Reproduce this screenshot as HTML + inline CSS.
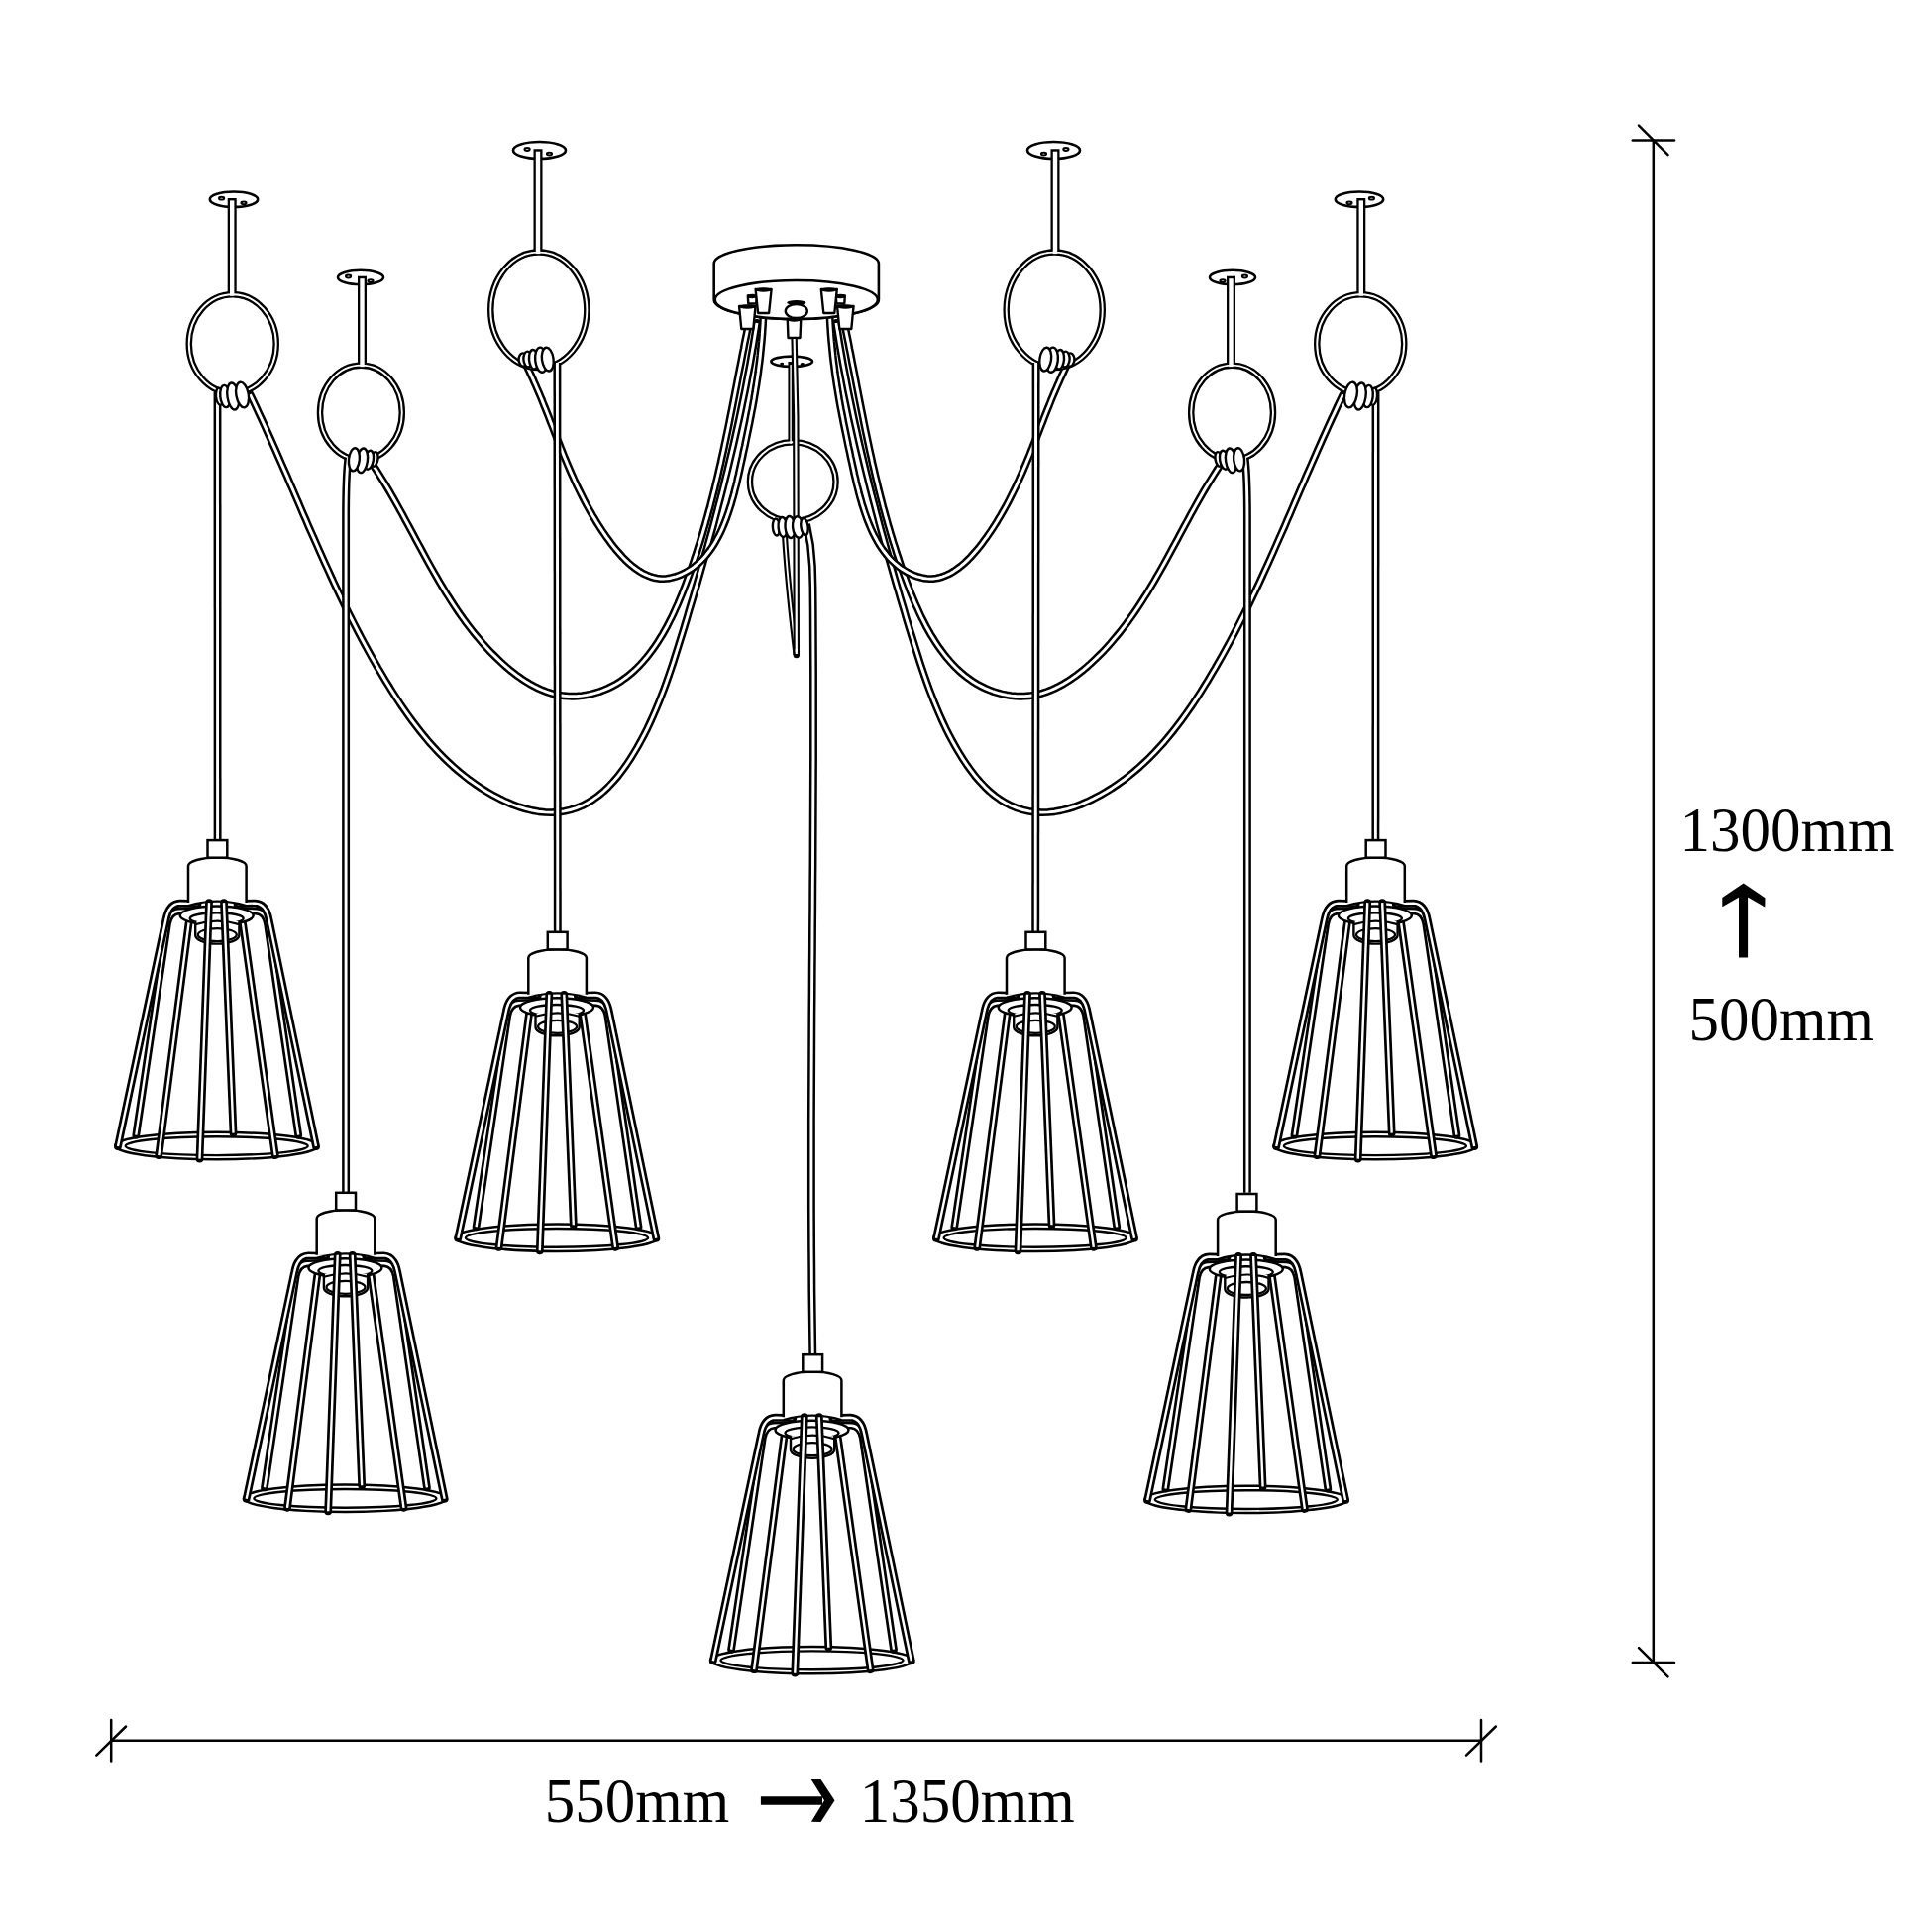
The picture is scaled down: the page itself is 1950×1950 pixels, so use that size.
<!DOCTYPE html><html><head><meta charset="utf-8"><style>html,body{margin:0;padding:0;background:#fff;}svg{display:block;}</style></head><body><svg width="1950" height="1950" viewBox="0 0 1950 1950"><defs><g id="lamp"><ellipse cx="-0.8" cy="308.4" rx="102.5" ry="13.7" fill="none" stroke="#000" stroke-width="2.5"/><ellipse cx="-0.8" cy="308.6" rx="92" ry="9.4" fill="none" stroke="#000" stroke-width="2.4"/><path d="M-24,71 L-39,71.5 Q-48,72 -50.5,84 L-82.2,297.5" fill="none" stroke="#000" stroke-width="7.8" stroke-linecap="round" stroke-linejoin="round"/><path d="M-24,71 L-39,71.5 Q-48,72 -50.5,84 L-82.2,297.5" fill="none" stroke="#fff" stroke-width="2.4" stroke-linecap="butt" stroke-linejoin="round"/><path d="M24,71 L39,71.5 Q48,72 50.5,84 L81.7,297.5" fill="none" stroke="#000" stroke-width="7.8" stroke-linecap="round" stroke-linejoin="round"/><path d="M24,71 L39,71.5 Q48,72 50.5,84 L81.7,297.5" fill="none" stroke="#fff" stroke-width="2.4" stroke-linecap="butt" stroke-linejoin="round"/><path d="M-20,64 L-38,63.5 Q-49,64 -52,80 L-100.5,309" fill="none" stroke="#000" stroke-width="7.8" stroke-linecap="round" stroke-linejoin="round"/><path d="M-20,64 L-38,63.5 Q-49,64 -52,80 L-100.5,309" fill="none" stroke="#fff" stroke-width="2.4" stroke-linecap="butt" stroke-linejoin="round"/><path d="M20,64 L38,63.5 Q49,64 52,80 L99.5,309" fill="none" stroke="#000" stroke-width="7.8" stroke-linecap="round" stroke-linejoin="round"/><path d="M20,64 L38,63.5 Q49,64 52,80 L99.5,309" fill="none" stroke="#fff" stroke-width="2.4" stroke-linecap="butt" stroke-linejoin="round"/><path d="M-29.5,63 L-29.5,26 A29.3,8.6 0 0 1 29.1,26 L29.1,63" fill="#fff" stroke="#000" stroke-width="2.5"/><rect x="-10" y="0" width="19.8" height="17.6" fill="#fff" stroke="#000" stroke-width="2.5"/><path d="M-27,76 L-29,84 L-59.2,318" fill="none" stroke="#000" stroke-width="7.8" stroke-linecap="round" stroke-linejoin="round"/><path d="M-27,76 L-29,84 L-59.2,318" fill="none" stroke="#fff" stroke-width="2.4" stroke-linecap="butt" stroke-linejoin="round"/><path d="M23.5,76 L25.5,84 L58.3,318" fill="none" stroke="#000" stroke-width="7.8" stroke-linecap="round" stroke-linejoin="round"/><path d="M23.5,76 L25.5,84 L58.3,318" fill="none" stroke="#fff" stroke-width="2.4" stroke-linecap="butt" stroke-linejoin="round"/><ellipse cx="-0.8" cy="76" rx="37" ry="9.5" fill="#fff" stroke="#000" stroke-width="2.5"/><path d="M-29.5,66 Q0,57 29.1,66" fill="none" stroke="#000" stroke-width="2.3"/><ellipse cx="-0.8" cy="79" rx="27" ry="5.8" fill="#fff" stroke="#000" stroke-width="2.4"/><path d="M-22.3,82 L-22.3,96 A22.1,8.5 0 0 0 21.9,96 L21.9,82" fill="#fff" stroke="#000" stroke-width="2.4"/><ellipse cx="-0.2" cy="95.5" rx="19.5" ry="6.5" fill="#fff" stroke="#000" stroke-width="2.3"/><path d="M-22.3,85 Q0,78 21.9,85" fill="none" stroke="#000" stroke-width="2.2"/><path d="M6.5,63 L16,295.5" fill="none" stroke="#000" stroke-width="7.8" stroke-linecap="round" stroke-linejoin="round"/><path d="M6.5,63 L16,295.5" fill="none" stroke="#fff" stroke-width="2.4" stroke-linecap="butt" stroke-linejoin="round"/><path d="M-8.5,63 L-18,321.5" fill="none" stroke="#000" stroke-width="7.8" stroke-linecap="round" stroke-linejoin="round"/><path d="M-8.5,63 L-18,321.5" fill="none" stroke="#fff" stroke-width="2.4" stroke-linecap="butt" stroke-linejoin="round"/></g></defs><rect width="1950" height="1950" fill="#fff"/><path d="M252.4,398.1 L255.4,404.4 258.4,410.8 261.3,417.1 264.3,423.5 267.2,429.8 270.0,436.2 272.9,442.5 275.7,448.9 278.5,455.2 281.3,461.6 284.1,468.0 286.9,474.3 289.7,480.7 292.4,487.1 295.2,493.4 297.9,499.8 300.7,506.2 303.4,512.5 306.1,518.9 308.9,525.2 311.6,531.6 314.4,537.9 317.2,544.2 320.0,550.5 322.8,556.8 325.6,563.1 328.4,569.4 331.3,575.7 334.2,582.0 337.1,588.3 340.0,594.5 343.0,600.7 346.0,607.0 349.0,613.2 352.1,619.4 355.2,625.5 358.3,631.7 361.5,637.8 364.7,644.0 368.0,650.1 371.3,656.2 374.6,662.2 378.1,668.3 381.5,674.3 385.1,680.3 388.6,686.3 392.3,692.2 396.0,698.2 399.8,704.1 403.6,709.9 407.6,715.7 411.6,721.4 415.7,727.1 419.9,732.7 424.2,738.2 428.6,743.6 433.1,749.0 437.8,754.2 442.5,759.3 447.4,764.3 452.5,769.2 457.6,773.9 462.9,778.5 468.4,783.0 473.9,787.3 479.7,791.4 485.6,795.4 491.7,799.2 497.9,802.8 504.3,806.1 510.7,809.2 517.2,812.0 523.8,814.4 530.4,816.4 537.0,818.0 543.6,819.2 550.1,819.9 556.6,820.1 563.0,819.8 569.3,818.9 575.5,817.5 581.6,815.6 587.5,813.2 593.2,810.3 598.7,806.9 604.0,803.1 609.2,798.8 614.1,794.1 618.8,789.1 623.4,783.8 627.7,778.2 631.9,772.4 635.9,766.4 639.7,760.2 643.4,754.0 646.9,747.7 650.3,741.3 653.5,734.9 656.5,728.5 659.4,722.0 662.2,715.5 664.9,709.0 667.5,702.4 670.0,695.9 672.4,689.3 674.7,682.7 677.0,676.0 679.2,669.4 681.3,662.8 683.4,656.1 685.5,649.4 687.5,642.8 689.6,636.1 691.6,629.5 693.6,622.8 695.5,616.1 697.5,609.5 699.5,602.8 701.4,596.2 703.4,589.5 705.3,582.8 707.2,576.2 709.1,569.5 711.0,562.8 712.9,556.2 714.7,549.5 716.5,542.8 718.4,536.2 720.2,529.5 721.9,522.8 723.7,516.1 725.4,509.4 727.2,502.7 728.9,496.0 730.6,489.3 732.2,482.6 733.9,475.9 735.5,469.2 737.1,462.4 738.7,455.7 740.3,448.9 741.8,442.2 743.3,435.4 744.8,428.7 746.3,421.9 747.7,415.1 749.1,408.3 750.5,401.5 751.9,394.7 753.2,387.9 754.5,381.1 755.8,374.2 757.1,367.4 758.3,360.5 759.5,353.6 760.7,346.7 761.8,339.8 762.9,332.9 764.0,326.0" fill="none" stroke="#000" stroke-width="7.9" stroke-linecap="round" stroke-linejoin="round"/><path d="M252.4,398.1 L255.4,404.4 258.4,410.8 261.3,417.1 264.3,423.5 267.2,429.8 270.0,436.2 272.9,442.5 275.7,448.9 278.5,455.2 281.3,461.6 284.1,468.0 286.9,474.3 289.7,480.7 292.4,487.1 295.2,493.4 297.9,499.8 300.7,506.2 303.4,512.5 306.1,518.9 308.9,525.2 311.6,531.6 314.4,537.9 317.2,544.2 320.0,550.5 322.8,556.8 325.6,563.1 328.4,569.4 331.3,575.7 334.2,582.0 337.1,588.3 340.0,594.5 343.0,600.7 346.0,607.0 349.0,613.2 352.1,619.4 355.2,625.5 358.3,631.7 361.5,637.8 364.7,644.0 368.0,650.1 371.3,656.2 374.6,662.2 378.1,668.3 381.5,674.3 385.1,680.3 388.6,686.3 392.3,692.2 396.0,698.2 399.8,704.1 403.6,709.9 407.6,715.7 411.6,721.4 415.7,727.1 419.9,732.7 424.2,738.2 428.6,743.6 433.1,749.0 437.8,754.2 442.5,759.3 447.4,764.3 452.5,769.2 457.6,773.9 462.9,778.5 468.4,783.0 473.9,787.3 479.7,791.4 485.6,795.4 491.7,799.2 497.9,802.8 504.3,806.1 510.7,809.2 517.2,812.0 523.8,814.4 530.4,816.4 537.0,818.0 543.6,819.2 550.1,819.9 556.6,820.1 563.0,819.8 569.3,818.9 575.5,817.5 581.6,815.6 587.5,813.2 593.2,810.3 598.7,806.9 604.0,803.1 609.2,798.8 614.1,794.1 618.8,789.1 623.4,783.8 627.7,778.2 631.9,772.4 635.9,766.4 639.7,760.2 643.4,754.0 646.9,747.7 650.3,741.3 653.5,734.9 656.5,728.5 659.4,722.0 662.2,715.5 664.9,709.0 667.5,702.4 670.0,695.9 672.4,689.3 674.7,682.7 677.0,676.0 679.2,669.4 681.3,662.8 683.4,656.1 685.5,649.4 687.5,642.8 689.6,636.1 691.6,629.5 693.6,622.8 695.5,616.1 697.5,609.5 699.5,602.8 701.4,596.2 703.4,589.5 705.3,582.8 707.2,576.2 709.1,569.5 711.0,562.8 712.9,556.2 714.7,549.5 716.5,542.8 718.4,536.2 720.2,529.5 721.9,522.8 723.7,516.1 725.4,509.4 727.2,502.7 728.9,496.0 730.6,489.3 732.2,482.6 733.9,475.9 735.5,469.2 737.1,462.4 738.7,455.7 740.3,448.9 741.8,442.2 743.3,435.4 744.8,428.7 746.3,421.9 747.7,415.1 749.1,408.3 750.5,401.5 751.9,394.7 753.2,387.9 754.5,381.1 755.8,374.2 757.1,367.4 758.3,360.5 759.5,353.6 760.7,346.7 761.8,339.8 762.9,332.9 764.0,326.0" fill="none" stroke="#fff" stroke-width="2.9" stroke-linecap="butt" stroke-linejoin="round"/><path d="M377.3,470.6 L379.9,474.5 382.4,478.5 384.9,482.5 387.4,486.5 389.9,490.6 392.3,494.6 394.7,498.7 397.0,502.8 399.4,507.0 401.7,511.1 404.0,515.3 406.3,519.4 408.5,523.6 410.8,527.8 413.1,532.0 415.3,536.2 417.6,540.4 419.8,544.6 422.1,548.8 424.4,553.0 426.6,557.2 428.9,561.4 431.2,565.6 433.5,569.8 435.8,573.9 438.2,578.1 440.6,582.3 443.0,586.4 445.4,590.5 447.8,594.6 450.3,598.7 452.9,602.7 455.4,606.7 458.0,610.7 460.7,614.7 463.4,618.7 466.1,622.6 468.9,626.5 471.8,630.3 474.7,634.1 477.6,637.9 480.7,641.6 483.8,645.3 486.9,649.0 490.1,652.6 493.4,656.2 496.8,659.7 500.3,663.1 503.8,666.5 507.4,669.9 511.1,673.2 514.8,676.3 518.7,679.4 522.5,682.3 526.5,685.1 530.5,687.7 534.6,690.2 538.8,692.5 543.0,694.6 547.2,696.5 551.5,698.2 555.9,699.6 560.3,700.8 564.8,701.7 569.3,702.3 573.9,702.6 578.4,702.7 583.0,702.5 587.6,702.1 592.1,701.4 596.6,700.5 601.0,699.3 605.4,698.0 609.6,696.4 613.8,694.6 617.8,692.6 621.8,690.5 625.6,688.2 629.3,685.6 632.9,683.0 636.4,680.1 639.8,677.2 643.1,674.0 646.3,670.7 649.4,667.3 652.4,663.8 655.3,660.1 658.1,656.4 660.9,652.5 663.6,648.5 666.1,644.4 668.7,640.3 671.1,636.0 673.5,631.7 675.7,627.3 678.0,622.8 680.1,618.3 682.2,613.7 684.3,609.1 686.2,604.5 688.2,599.8 690.0,595.1 691.8,590.4 693.6,585.6 695.3,580.9 697.0,576.2 698.6,571.4 700.2,566.7 701.7,562.0 703.3,557.4 704.7,552.7 706.2,548.1 707.6,543.5 709.0,538.9 710.3,534.3 711.7,529.7 712.9,525.2 714.2,520.6 715.4,516.1 716.7,511.6 717.8,507.1 719.0,502.6 720.1,498.1 721.3,493.6 722.3,489.1 723.4,484.7 724.5,480.2 725.5,475.7 726.5,471.3 727.6,466.8 728.5,462.3 729.5,457.9 730.5,453.4 731.4,448.9 732.4,444.4 733.3,439.9 734.3,435.4 735.2,430.9 736.1,426.4 737.0,421.8 737.9,417.3 738.8,412.7 739.7,408.2 740.6,403.6 741.5,399.0 742.4,394.3 743.3,389.7 744.2,385.0 745.1,380.3 746.0,375.6 746.9,370.9 747.9,366.1 748.8,361.3 749.7,356.5 750.7,351.7 751.6,346.8 752.6,341.9 753.6,337.0 754.6,332.0" fill="none" stroke="#000" stroke-width="7.9" stroke-linecap="round" stroke-linejoin="round"/><path d="M377.3,470.6 L379.9,474.5 382.4,478.5 384.9,482.5 387.4,486.5 389.9,490.6 392.3,494.6 394.7,498.7 397.0,502.8 399.4,507.0 401.7,511.1 404.0,515.3 406.3,519.4 408.5,523.6 410.8,527.8 413.1,532.0 415.3,536.2 417.6,540.4 419.8,544.6 422.1,548.8 424.4,553.0 426.6,557.2 428.9,561.4 431.2,565.6 433.5,569.8 435.8,573.9 438.2,578.1 440.6,582.3 443.0,586.4 445.4,590.5 447.8,594.6 450.3,598.7 452.9,602.7 455.4,606.7 458.0,610.7 460.7,614.7 463.4,618.7 466.1,622.6 468.9,626.5 471.8,630.3 474.7,634.1 477.6,637.9 480.7,641.6 483.8,645.3 486.9,649.0 490.1,652.6 493.4,656.2 496.8,659.7 500.3,663.1 503.8,666.5 507.4,669.9 511.1,673.2 514.8,676.3 518.7,679.4 522.5,682.3 526.5,685.1 530.5,687.7 534.6,690.2 538.8,692.5 543.0,694.6 547.2,696.5 551.5,698.2 555.9,699.6 560.3,700.8 564.8,701.7 569.3,702.3 573.9,702.6 578.4,702.7 583.0,702.5 587.6,702.1 592.1,701.4 596.6,700.5 601.0,699.3 605.4,698.0 609.6,696.4 613.8,694.6 617.8,692.6 621.8,690.5 625.6,688.2 629.3,685.6 632.9,683.0 636.4,680.1 639.8,677.2 643.1,674.0 646.3,670.7 649.4,667.3 652.4,663.8 655.3,660.1 658.1,656.4 660.9,652.5 663.6,648.5 666.1,644.4 668.7,640.3 671.1,636.0 673.5,631.7 675.7,627.3 678.0,622.8 680.1,618.3 682.2,613.7 684.3,609.1 686.2,604.5 688.2,599.8 690.0,595.1 691.8,590.4 693.6,585.6 695.3,580.9 697.0,576.2 698.6,571.4 700.2,566.7 701.7,562.0 703.3,557.4 704.7,552.7 706.2,548.1 707.6,543.5 709.0,538.9 710.3,534.3 711.7,529.7 712.9,525.2 714.2,520.6 715.4,516.1 716.7,511.6 717.8,507.1 719.0,502.6 720.1,498.1 721.3,493.6 722.3,489.1 723.4,484.7 724.5,480.2 725.5,475.7 726.5,471.3 727.6,466.8 728.5,462.3 729.5,457.9 730.5,453.4 731.4,448.9 732.4,444.4 733.3,439.9 734.3,435.4 735.2,430.9 736.1,426.4 737.0,421.8 737.9,417.3 738.8,412.7 739.7,408.2 740.6,403.6 741.5,399.0 742.4,394.3 743.3,389.7 744.2,385.0 745.1,380.3 746.0,375.6 746.9,370.9 747.9,366.1 748.8,361.3 749.7,356.5 750.7,351.7 751.6,346.8 752.6,341.9 753.6,337.0 754.6,332.0" fill="none" stroke="#fff" stroke-width="2.9" stroke-linecap="butt" stroke-linejoin="round"/><path d="M531.9,369.9 L533.5,373.2 535.0,376.5 536.6,379.8 538.1,383.1 539.5,386.4 541.0,389.7 542.4,393.0 543.8,396.2 545.2,399.5 546.6,402.8 547.9,406.1 549.2,409.4 550.6,412.7 551.9,416.0 553.2,419.3 554.5,422.6 555.7,425.9 557.0,429.1 558.3,432.4 559.6,435.7 560.9,439.0 562.1,442.3 563.4,445.5 564.7,448.8 566.0,452.1 567.3,455.3 568.6,458.6 569.9,461.9 571.3,465.1 572.6,468.4 574.0,471.6 575.4,474.9 576.8,478.1 578.3,481.4 579.7,484.6 581.2,487.8 582.7,491.1 584.3,494.3 585.9,497.5 587.5,500.7 589.1,503.9 590.8,507.2 592.5,510.4 594.3,513.6 596.1,516.7 597.9,519.9 599.8,523.1 601.7,526.3 603.7,529.5 605.7,532.6 607.8,535.8 609.9,538.9 612.1,542.1 614.4,545.2 616.7,548.3 619.0,551.3 621.4,554.3 623.9,557.2 626.4,560.0 628.9,562.8 631.5,565.4 634.1,567.9 636.8,570.2 639.6,572.5 642.4,574.5 645.2,576.4 648.1,578.2 651.0,579.7 654.0,581.0 657.0,582.1 660.0,583.0 663.1,583.6 666.2,584.0 669.4,584.1 672.6,583.9 675.9,583.5 679.1,582.7 682.4,581.8 685.6,580.6 688.7,579.3 691.8,577.8 694.7,576.1 697.6,574.3 700.3,572.3 703.0,570.2 705.5,568.0 707.9,565.7 710.3,563.2 712.5,560.7 714.6,558.0 716.7,555.3 718.7,552.4 720.6,549.5 722.4,546.4 724.1,543.3 725.8,540.1 727.4,536.9 728.9,533.6 730.3,530.2 731.7,526.7 733.1,523.2 734.3,519.7 735.6,516.1 736.7,512.5 737.9,508.9 738.9,505.2 740.0,501.5 741.0,497.8 741.9,494.0 742.9,490.3 743.8,486.6 744.6,482.8 745.5,479.1 746.3,475.4 747.1,471.7 747.9,468.0 748.7,464.4 749.5,460.8 750.2,457.2 751.0,453.6 751.8,450.1 752.5,446.6 753.2,443.1 753.9,439.7 754.6,436.3 755.3,432.9 756.0,429.5 756.7,426.1 757.3,422.7 758.0,419.4 758.6,416.0 759.3,412.7 759.9,409.4 760.5,406.0 761.1,402.7 761.6,399.4 762.2,396.0 762.7,392.7 763.3,389.3 763.8,386.0 764.3,382.6 764.8,379.2 765.3,375.9 765.7,372.4 766.1,369.0 766.6,365.6 767.0,362.1 767.4,358.6 767.7,355.1 768.1,351.5 768.4,348.0 768.8,344.3 769.1,340.7 769.4,337.0 769.6,333.3 769.9,329.5 770.1,325.7 770.3,321.9 770.5,318.0" fill="none" stroke="#000" stroke-width="7.9" stroke-linecap="round" stroke-linejoin="round"/><path d="M531.9,369.9 L533.5,373.2 535.0,376.5 536.6,379.8 538.1,383.1 539.5,386.4 541.0,389.7 542.4,393.0 543.8,396.2 545.2,399.5 546.6,402.8 547.9,406.1 549.2,409.4 550.6,412.7 551.9,416.0 553.2,419.3 554.5,422.6 555.7,425.9 557.0,429.1 558.3,432.4 559.6,435.7 560.9,439.0 562.1,442.3 563.4,445.5 564.7,448.8 566.0,452.1 567.3,455.3 568.6,458.6 569.9,461.9 571.3,465.1 572.6,468.4 574.0,471.6 575.4,474.9 576.8,478.1 578.3,481.4 579.7,484.6 581.2,487.8 582.7,491.1 584.3,494.3 585.9,497.5 587.5,500.7 589.1,503.9 590.8,507.2 592.5,510.4 594.3,513.6 596.1,516.7 597.9,519.9 599.8,523.1 601.7,526.3 603.7,529.5 605.7,532.6 607.8,535.8 609.9,538.9 612.1,542.1 614.4,545.2 616.7,548.3 619.0,551.3 621.4,554.3 623.9,557.2 626.4,560.0 628.9,562.8 631.5,565.4 634.1,567.9 636.8,570.2 639.6,572.5 642.4,574.5 645.2,576.4 648.1,578.2 651.0,579.7 654.0,581.0 657.0,582.1 660.0,583.0 663.1,583.6 666.2,584.0 669.4,584.1 672.6,583.9 675.9,583.5 679.1,582.7 682.4,581.8 685.6,580.6 688.7,579.3 691.8,577.8 694.7,576.1 697.6,574.3 700.3,572.3 703.0,570.2 705.5,568.0 707.9,565.7 710.3,563.2 712.5,560.7 714.6,558.0 716.7,555.3 718.7,552.4 720.6,549.5 722.4,546.4 724.1,543.3 725.8,540.1 727.4,536.9 728.9,533.6 730.3,530.2 731.7,526.7 733.1,523.2 734.3,519.7 735.6,516.1 736.7,512.5 737.9,508.9 738.9,505.2 740.0,501.5 741.0,497.8 741.9,494.0 742.9,490.3 743.8,486.6 744.6,482.8 745.5,479.1 746.3,475.4 747.1,471.7 747.9,468.0 748.7,464.4 749.5,460.8 750.2,457.2 751.0,453.6 751.8,450.1 752.5,446.6 753.2,443.1 753.9,439.7 754.6,436.3 755.3,432.9 756.0,429.5 756.7,426.1 757.3,422.7 758.0,419.4 758.6,416.0 759.3,412.7 759.9,409.4 760.5,406.0 761.1,402.7 761.6,399.4 762.2,396.0 762.7,392.7 763.3,389.3 763.8,386.0 764.3,382.6 764.8,379.2 765.3,375.9 765.7,372.4 766.1,369.0 766.6,365.6 767.0,362.1 767.4,358.6 767.7,355.1 768.1,351.5 768.4,348.0 768.8,344.3 769.1,340.7 769.4,337.0 769.6,333.3 769.9,329.5 770.1,325.7 770.3,321.9 770.5,318.0" fill="none" stroke="#fff" stroke-width="2.9" stroke-linecap="butt" stroke-linejoin="round"/><ellipse cx="236" cy="201.2" rx="24.2" ry="7.7" fill="#fff" stroke="#000" stroke-width="2.6"/><ellipse cx="223.6" cy="200.2" rx="2.6" ry="1.4" fill="#fff" stroke="#000" stroke-width="2"/><ellipse cx="246" cy="204.8" rx="2.6" ry="1.4" fill="#fff" stroke="#000" stroke-width="2"/><ellipse cx="234.75" cy="347" rx="44" ry="49.75" fill="none" stroke="#000" stroke-width="6.5"/><path d="M234.2,200 L234.2,297.25" fill="none" stroke="#000" stroke-width="9" stroke-linecap="butt"/><ellipse cx="234.75" cy="347" rx="44" ry="49.75" fill="none" stroke="#fff" stroke-width="1.9"/><path d="M234.2,202.4 L234.2,298.75" fill="none" stroke="#fff" stroke-width="4.4"/><ellipse cx="364" cy="280" rx="23" ry="7.2" fill="#fff" stroke="#000" stroke-width="2.6"/><ellipse cx="351.6" cy="279" rx="2.6" ry="1.4" fill="#fff" stroke="#000" stroke-width="2"/><ellipse cx="374" cy="283.6" rx="2.6" ry="1.4" fill="#fff" stroke="#000" stroke-width="2"/><ellipse cx="364.4" cy="416.4" rx="41.4" ry="47.75" fill="none" stroke="#000" stroke-width="6.5"/><path d="M365.5,278.8 L365.5,368.65" fill="none" stroke="#000" stroke-width="9" stroke-linecap="butt"/><ellipse cx="364.4" cy="416.4" rx="41.4" ry="47.75" fill="none" stroke="#fff" stroke-width="1.9"/><path d="M365.5,281.2 L365.5,370.15" fill="none" stroke="#fff" stroke-width="4.4"/><ellipse cx="544.5" cy="151.5" rx="26.5" ry="8.5" fill="#fff" stroke="#000" stroke-width="2.6"/><ellipse cx="532.1" cy="150.5" rx="2.6" ry="1.4" fill="#fff" stroke="#000" stroke-width="2"/><ellipse cx="554.5" cy="155.1" rx="2.6" ry="1.4" fill="#fff" stroke="#000" stroke-width="2"/><ellipse cx="543.8" cy="312.85" rx="48.55" ry="58.25" fill="none" stroke="#000" stroke-width="6.5"/><path d="M543,150.3 L543,254.6" fill="none" stroke="#000" stroke-width="9" stroke-linecap="butt"/><ellipse cx="543.8" cy="312.85" rx="48.55" ry="58.25" fill="none" stroke="#fff" stroke-width="1.9"/><path d="M543,152.7 L543,256.1" fill="none" stroke="#fff" stroke-width="4.4"/><path d="M219.5,396 L219.6,848.1" fill="none" stroke="#000" stroke-width="7.9" stroke-linecap="butt" stroke-linejoin="round"/><path d="M219.5,396 L219.6,848.1" fill="none" stroke="#fff" stroke-width="2.9" stroke-linecap="butt" stroke-linejoin="round"/><path d="M351.5,462 Q349.2,478 349.1,520 L349.1,1203.8" fill="none" stroke="#000" stroke-width="7.9" stroke-linecap="butt" stroke-linejoin="round"/><path d="M351.5,462 Q349.2,478 349.1,520 L349.1,1203.8" fill="none" stroke="#fff" stroke-width="2.9" stroke-linecap="butt" stroke-linejoin="round"/><path d="M562.4,366 L562.8,940.8" fill="none" stroke="#000" stroke-width="7.9" stroke-linecap="butt" stroke-linejoin="round"/><path d="M562.4,366 L562.8,940.8" fill="none" stroke="#fff" stroke-width="2.9" stroke-linecap="butt" stroke-linejoin="round"/><ellipse cx="221.6" cy="400.2" rx="3.6" ry="8.6" transform="rotate(-6 221.6 400.2)" fill="#fff" stroke="#000" stroke-width="2.4"/><ellipse cx="227.3" cy="400" rx="5" ry="11.2" transform="rotate(-6 227.3 400)" fill="#fff" stroke="#000" stroke-width="2.4"/><ellipse cx="235.3" cy="400" rx="5.8" ry="13.6" transform="rotate(-8 235.3 400)" fill="#fff" stroke="#000" stroke-width="2.4"/><ellipse cx="244.6" cy="398.5" rx="6.2" ry="13" transform="rotate(-10 244.6 398.5)" fill="#fff" stroke="#000" stroke-width="2.4"/><ellipse cx="378" cy="463.4" rx="3.4" ry="7.4" transform="rotate(10 378 463.4)" fill="#fff" stroke="#000" stroke-width="2.4"/><ellipse cx="372.4" cy="464.2" rx="4.4" ry="9.6" transform="rotate(10 372.4 464.2)" fill="#fff" stroke="#000" stroke-width="2.4"/><ellipse cx="365.5" cy="464.8" rx="5.4" ry="12.4" transform="rotate(8 365.5 464.8)" fill="#fff" stroke="#000" stroke-width="2.4"/><ellipse cx="357.4" cy="463.8" rx="5.4" ry="11.6" transform="rotate(6 357.4 463.8)" fill="#fff" stroke="#000" stroke-width="2.4"/><ellipse cx="528" cy="363" rx="4.4" ry="6.6" transform="rotate(-4 528 363)" fill="#fff" stroke="#000" stroke-width="2.4"/><ellipse cx="532.8" cy="362.5" rx="4.4" ry="7.9" transform="rotate(-4 532.8 362.5)" fill="#fff" stroke="#000" stroke-width="2.4"/><ellipse cx="538.6" cy="362.8" rx="4.6" ry="9.8" transform="rotate(-5 538.6 362.8)" fill="#fff" stroke="#000" stroke-width="2.4"/><ellipse cx="546.2" cy="363.2" rx="6" ry="12.6" transform="rotate(-6 546.2 363.2)" fill="#fff" stroke="#000" stroke-width="2.4"/><ellipse cx="552.8" cy="362.6" rx="5.8" ry="12" transform="rotate(-8 552.8 362.6)" fill="#fff" stroke="#000" stroke-width="2.4"/><g transform="translate(1608 0) scale(-1 1)"><path d="M252.4,398.1 L255.4,404.4 258.4,410.8 261.3,417.1 264.3,423.5 267.2,429.8 270.0,436.2 272.9,442.5 275.7,448.9 278.5,455.2 281.3,461.6 284.1,468.0 286.9,474.3 289.7,480.7 292.4,487.1 295.2,493.4 297.9,499.8 300.7,506.2 303.4,512.5 306.1,518.9 308.9,525.2 311.6,531.6 314.4,537.9 317.2,544.2 320.0,550.5 322.8,556.8 325.6,563.1 328.4,569.4 331.3,575.7 334.2,582.0 337.1,588.3 340.0,594.5 343.0,600.7 346.0,607.0 349.0,613.2 352.1,619.4 355.2,625.5 358.3,631.7 361.5,637.8 364.7,644.0 368.0,650.1 371.3,656.2 374.6,662.2 378.1,668.3 381.5,674.3 385.1,680.3 388.6,686.3 392.3,692.2 396.0,698.2 399.8,704.1 403.6,709.9 407.6,715.7 411.6,721.4 415.7,727.1 419.9,732.7 424.2,738.2 428.6,743.6 433.1,749.0 437.8,754.2 442.5,759.3 447.4,764.3 452.5,769.2 457.6,773.9 462.9,778.5 468.4,783.0 473.9,787.3 479.7,791.4 485.6,795.4 491.7,799.2 497.9,802.8 504.3,806.1 510.7,809.2 517.2,812.0 523.8,814.4 530.4,816.4 537.0,818.0 543.6,819.2 550.1,819.9 556.6,820.1 563.0,819.8 569.3,818.9 575.5,817.5 581.6,815.6 587.5,813.2 593.2,810.3 598.7,806.9 604.0,803.1 609.2,798.8 614.1,794.1 618.8,789.1 623.4,783.8 627.7,778.2 631.9,772.4 635.9,766.4 639.7,760.2 643.4,754.0 646.9,747.7 650.3,741.3 653.5,734.9 656.5,728.5 659.4,722.0 662.2,715.5 664.9,709.0 667.5,702.4 670.0,695.9 672.4,689.3 674.7,682.7 677.0,676.0 679.2,669.4 681.3,662.8 683.4,656.1 685.5,649.4 687.5,642.8 689.6,636.1 691.6,629.5 693.6,622.8 695.5,616.1 697.5,609.5 699.5,602.8 701.4,596.2 703.4,589.5 705.3,582.8 707.2,576.2 709.1,569.5 711.0,562.8 712.9,556.2 714.7,549.5 716.5,542.8 718.4,536.2 720.2,529.5 721.9,522.8 723.7,516.1 725.4,509.4 727.2,502.7 728.9,496.0 730.6,489.3 732.2,482.6 733.9,475.9 735.5,469.2 737.1,462.4 738.7,455.7 740.3,448.9 741.8,442.2 743.3,435.4 744.8,428.7 746.3,421.9 747.7,415.1 749.1,408.3 750.5,401.5 751.9,394.7 753.2,387.9 754.5,381.1 755.8,374.2 757.1,367.4 758.3,360.5 759.5,353.6 760.7,346.7 761.8,339.8 762.9,332.9 764.0,326.0" fill="none" stroke="#000" stroke-width="7.9" stroke-linecap="round" stroke-linejoin="round"/><path d="M252.4,398.1 L255.4,404.4 258.4,410.8 261.3,417.1 264.3,423.5 267.2,429.8 270.0,436.2 272.9,442.5 275.7,448.9 278.5,455.2 281.3,461.6 284.1,468.0 286.9,474.3 289.7,480.7 292.4,487.1 295.2,493.4 297.9,499.8 300.7,506.2 303.4,512.5 306.1,518.9 308.9,525.2 311.6,531.6 314.4,537.9 317.2,544.2 320.0,550.5 322.8,556.8 325.6,563.1 328.4,569.4 331.3,575.7 334.2,582.0 337.1,588.3 340.0,594.5 343.0,600.7 346.0,607.0 349.0,613.2 352.1,619.4 355.2,625.5 358.3,631.7 361.5,637.8 364.7,644.0 368.0,650.1 371.3,656.2 374.6,662.2 378.1,668.3 381.5,674.3 385.1,680.3 388.6,686.3 392.3,692.2 396.0,698.2 399.8,704.1 403.6,709.9 407.6,715.7 411.6,721.4 415.7,727.1 419.9,732.7 424.2,738.2 428.6,743.6 433.1,749.0 437.8,754.2 442.5,759.3 447.4,764.3 452.5,769.2 457.6,773.9 462.9,778.5 468.4,783.0 473.9,787.3 479.7,791.4 485.6,795.4 491.7,799.2 497.9,802.8 504.3,806.1 510.7,809.2 517.2,812.0 523.8,814.4 530.4,816.4 537.0,818.0 543.6,819.2 550.1,819.9 556.6,820.1 563.0,819.8 569.3,818.9 575.5,817.5 581.6,815.6 587.5,813.2 593.2,810.3 598.7,806.9 604.0,803.1 609.2,798.8 614.1,794.1 618.8,789.1 623.4,783.8 627.7,778.2 631.9,772.4 635.9,766.4 639.7,760.2 643.4,754.0 646.9,747.7 650.3,741.3 653.5,734.9 656.5,728.5 659.4,722.0 662.2,715.5 664.9,709.0 667.5,702.4 670.0,695.9 672.4,689.3 674.7,682.7 677.0,676.0 679.2,669.4 681.3,662.8 683.4,656.1 685.5,649.4 687.5,642.8 689.6,636.1 691.6,629.5 693.6,622.8 695.5,616.1 697.5,609.5 699.5,602.8 701.4,596.2 703.4,589.5 705.3,582.8 707.2,576.2 709.1,569.5 711.0,562.8 712.9,556.2 714.7,549.5 716.5,542.8 718.4,536.2 720.2,529.5 721.9,522.8 723.7,516.1 725.4,509.4 727.2,502.7 728.9,496.0 730.6,489.3 732.2,482.6 733.9,475.9 735.5,469.2 737.1,462.4 738.7,455.7 740.3,448.9 741.8,442.2 743.3,435.4 744.8,428.7 746.3,421.9 747.7,415.1 749.1,408.3 750.5,401.5 751.9,394.7 753.2,387.9 754.5,381.1 755.8,374.2 757.1,367.4 758.3,360.5 759.5,353.6 760.7,346.7 761.8,339.8 762.9,332.9 764.0,326.0" fill="none" stroke="#fff" stroke-width="2.9" stroke-linecap="butt" stroke-linejoin="round"/><path d="M377.3,470.6 L379.9,474.5 382.4,478.5 384.9,482.5 387.4,486.5 389.9,490.6 392.3,494.6 394.7,498.7 397.0,502.8 399.4,507.0 401.7,511.1 404.0,515.3 406.3,519.4 408.5,523.6 410.8,527.8 413.1,532.0 415.3,536.2 417.6,540.4 419.8,544.6 422.1,548.8 424.4,553.0 426.6,557.2 428.9,561.4 431.2,565.6 433.5,569.8 435.8,573.9 438.2,578.1 440.6,582.3 443.0,586.4 445.4,590.5 447.8,594.6 450.3,598.7 452.9,602.7 455.4,606.7 458.0,610.7 460.7,614.7 463.4,618.7 466.1,622.6 468.9,626.5 471.8,630.3 474.7,634.1 477.6,637.9 480.7,641.6 483.8,645.3 486.9,649.0 490.1,652.6 493.4,656.2 496.8,659.7 500.3,663.1 503.8,666.5 507.4,669.9 511.1,673.2 514.8,676.3 518.7,679.4 522.5,682.3 526.5,685.1 530.5,687.7 534.6,690.2 538.8,692.5 543.0,694.6 547.2,696.5 551.5,698.2 555.9,699.6 560.3,700.8 564.8,701.7 569.3,702.3 573.9,702.6 578.4,702.7 583.0,702.5 587.6,702.1 592.1,701.4 596.6,700.5 601.0,699.3 605.4,698.0 609.6,696.4 613.8,694.6 617.8,692.6 621.8,690.5 625.6,688.2 629.3,685.6 632.9,683.0 636.4,680.1 639.8,677.2 643.1,674.0 646.3,670.7 649.4,667.3 652.4,663.8 655.3,660.1 658.1,656.4 660.9,652.5 663.6,648.5 666.1,644.4 668.7,640.3 671.1,636.0 673.5,631.7 675.7,627.3 678.0,622.8 680.1,618.3 682.2,613.7 684.3,609.1 686.2,604.5 688.2,599.8 690.0,595.1 691.8,590.4 693.6,585.6 695.3,580.9 697.0,576.2 698.6,571.4 700.2,566.7 701.7,562.0 703.3,557.4 704.7,552.7 706.2,548.1 707.6,543.5 709.0,538.9 710.3,534.3 711.7,529.7 712.9,525.2 714.2,520.6 715.4,516.1 716.7,511.6 717.8,507.1 719.0,502.6 720.1,498.1 721.3,493.6 722.3,489.1 723.4,484.7 724.5,480.2 725.5,475.7 726.5,471.3 727.6,466.8 728.5,462.3 729.5,457.9 730.5,453.4 731.4,448.9 732.4,444.4 733.3,439.9 734.3,435.4 735.2,430.9 736.1,426.4 737.0,421.8 737.9,417.3 738.8,412.7 739.7,408.2 740.6,403.6 741.5,399.0 742.4,394.3 743.3,389.7 744.2,385.0 745.1,380.3 746.0,375.6 746.9,370.9 747.9,366.1 748.8,361.3 749.7,356.5 750.7,351.7 751.6,346.8 752.6,341.9 753.6,337.0 754.6,332.0" fill="none" stroke="#000" stroke-width="7.9" stroke-linecap="round" stroke-linejoin="round"/><path d="M377.3,470.6 L379.9,474.5 382.4,478.5 384.9,482.5 387.4,486.5 389.9,490.6 392.3,494.6 394.7,498.7 397.0,502.8 399.4,507.0 401.7,511.1 404.0,515.3 406.3,519.4 408.5,523.6 410.8,527.8 413.1,532.0 415.3,536.2 417.6,540.4 419.8,544.6 422.1,548.8 424.4,553.0 426.6,557.2 428.9,561.4 431.2,565.6 433.5,569.8 435.8,573.9 438.2,578.1 440.6,582.3 443.0,586.4 445.4,590.5 447.8,594.6 450.3,598.7 452.9,602.7 455.4,606.7 458.0,610.7 460.7,614.7 463.4,618.7 466.1,622.6 468.9,626.5 471.8,630.3 474.7,634.1 477.6,637.9 480.7,641.6 483.8,645.3 486.9,649.0 490.1,652.6 493.4,656.2 496.8,659.7 500.3,663.1 503.8,666.5 507.4,669.9 511.1,673.2 514.8,676.3 518.7,679.4 522.5,682.3 526.5,685.1 530.5,687.7 534.6,690.2 538.8,692.5 543.0,694.6 547.2,696.5 551.5,698.2 555.9,699.6 560.3,700.8 564.8,701.7 569.3,702.3 573.9,702.6 578.4,702.7 583.0,702.5 587.6,702.1 592.1,701.4 596.6,700.5 601.0,699.3 605.4,698.0 609.6,696.4 613.8,694.6 617.8,692.6 621.8,690.5 625.6,688.2 629.3,685.6 632.9,683.0 636.4,680.1 639.8,677.2 643.1,674.0 646.3,670.7 649.4,667.3 652.4,663.8 655.3,660.1 658.1,656.4 660.9,652.5 663.6,648.5 666.1,644.4 668.7,640.3 671.1,636.0 673.5,631.7 675.7,627.3 678.0,622.8 680.1,618.3 682.2,613.7 684.3,609.1 686.2,604.5 688.2,599.8 690.0,595.1 691.8,590.4 693.6,585.6 695.3,580.9 697.0,576.2 698.6,571.4 700.2,566.7 701.7,562.0 703.3,557.4 704.7,552.7 706.2,548.1 707.6,543.5 709.0,538.9 710.3,534.3 711.7,529.7 712.9,525.2 714.2,520.6 715.4,516.1 716.7,511.6 717.8,507.1 719.0,502.6 720.1,498.1 721.3,493.6 722.3,489.1 723.4,484.7 724.5,480.2 725.5,475.7 726.5,471.3 727.6,466.8 728.5,462.3 729.5,457.9 730.5,453.4 731.4,448.9 732.4,444.4 733.3,439.9 734.3,435.4 735.2,430.9 736.1,426.4 737.0,421.8 737.9,417.3 738.8,412.7 739.7,408.2 740.6,403.6 741.5,399.0 742.4,394.3 743.3,389.7 744.2,385.0 745.1,380.3 746.0,375.6 746.9,370.9 747.9,366.1 748.8,361.3 749.7,356.5 750.7,351.7 751.6,346.8 752.6,341.9 753.6,337.0 754.6,332.0" fill="none" stroke="#fff" stroke-width="2.9" stroke-linecap="butt" stroke-linejoin="round"/><path d="M531.9,369.9 L533.5,373.2 535.0,376.5 536.6,379.8 538.1,383.1 539.5,386.4 541.0,389.7 542.4,393.0 543.8,396.2 545.2,399.5 546.6,402.8 547.9,406.1 549.2,409.4 550.6,412.7 551.9,416.0 553.2,419.3 554.5,422.6 555.7,425.9 557.0,429.1 558.3,432.4 559.6,435.7 560.9,439.0 562.1,442.3 563.4,445.5 564.7,448.8 566.0,452.1 567.3,455.3 568.6,458.6 569.9,461.9 571.3,465.1 572.6,468.4 574.0,471.6 575.4,474.9 576.8,478.1 578.3,481.4 579.7,484.6 581.2,487.8 582.7,491.1 584.3,494.3 585.9,497.5 587.5,500.7 589.1,503.9 590.8,507.2 592.5,510.4 594.3,513.6 596.1,516.7 597.9,519.9 599.8,523.1 601.7,526.3 603.7,529.5 605.7,532.6 607.8,535.8 609.9,538.9 612.1,542.1 614.4,545.2 616.7,548.3 619.0,551.3 621.4,554.3 623.9,557.2 626.4,560.0 628.9,562.8 631.5,565.4 634.1,567.9 636.8,570.2 639.6,572.5 642.4,574.5 645.2,576.4 648.1,578.2 651.0,579.7 654.0,581.0 657.0,582.1 660.0,583.0 663.1,583.6 666.2,584.0 669.4,584.1 672.6,583.9 675.9,583.5 679.1,582.7 682.4,581.8 685.6,580.6 688.7,579.3 691.8,577.8 694.7,576.1 697.6,574.3 700.3,572.3 703.0,570.2 705.5,568.0 707.9,565.7 710.3,563.2 712.5,560.7 714.6,558.0 716.7,555.3 718.7,552.4 720.6,549.5 722.4,546.4 724.1,543.3 725.8,540.1 727.4,536.9 728.9,533.6 730.3,530.2 731.7,526.7 733.1,523.2 734.3,519.7 735.6,516.1 736.7,512.5 737.9,508.9 738.9,505.2 740.0,501.5 741.0,497.8 741.9,494.0 742.9,490.3 743.8,486.6 744.6,482.8 745.5,479.1 746.3,475.4 747.1,471.7 747.9,468.0 748.7,464.4 749.5,460.8 750.2,457.2 751.0,453.6 751.8,450.1 752.5,446.6 753.2,443.1 753.9,439.7 754.6,436.3 755.3,432.9 756.0,429.5 756.7,426.1 757.3,422.7 758.0,419.4 758.6,416.0 759.3,412.7 759.9,409.4 760.5,406.0 761.1,402.7 761.6,399.4 762.2,396.0 762.7,392.7 763.3,389.3 763.8,386.0 764.3,382.6 764.8,379.2 765.3,375.9 765.7,372.4 766.1,369.0 766.6,365.6 767.0,362.1 767.4,358.6 767.7,355.1 768.1,351.5 768.4,348.0 768.8,344.3 769.1,340.7 769.4,337.0 769.6,333.3 769.9,329.5 770.1,325.7 770.3,321.9 770.5,318.0" fill="none" stroke="#000" stroke-width="7.9" stroke-linecap="round" stroke-linejoin="round"/><path d="M531.9,369.9 L533.5,373.2 535.0,376.5 536.6,379.8 538.1,383.1 539.5,386.4 541.0,389.7 542.4,393.0 543.8,396.2 545.2,399.5 546.6,402.8 547.9,406.1 549.2,409.4 550.6,412.7 551.9,416.0 553.2,419.3 554.5,422.6 555.7,425.9 557.0,429.1 558.3,432.4 559.6,435.7 560.9,439.0 562.1,442.3 563.4,445.5 564.7,448.8 566.0,452.1 567.3,455.3 568.6,458.6 569.9,461.9 571.3,465.1 572.6,468.4 574.0,471.6 575.4,474.9 576.8,478.1 578.3,481.4 579.7,484.6 581.2,487.8 582.7,491.1 584.3,494.3 585.9,497.5 587.5,500.7 589.1,503.9 590.8,507.2 592.5,510.4 594.3,513.6 596.1,516.7 597.9,519.9 599.8,523.1 601.7,526.3 603.7,529.5 605.7,532.6 607.8,535.8 609.9,538.9 612.1,542.1 614.4,545.2 616.7,548.3 619.0,551.3 621.4,554.3 623.9,557.2 626.4,560.0 628.9,562.8 631.5,565.4 634.1,567.9 636.8,570.2 639.6,572.5 642.4,574.5 645.2,576.4 648.1,578.2 651.0,579.7 654.0,581.0 657.0,582.1 660.0,583.0 663.1,583.6 666.2,584.0 669.4,584.1 672.6,583.9 675.9,583.5 679.1,582.7 682.4,581.8 685.6,580.6 688.7,579.3 691.8,577.8 694.7,576.1 697.6,574.3 700.3,572.3 703.0,570.2 705.5,568.0 707.9,565.7 710.3,563.2 712.5,560.7 714.6,558.0 716.7,555.3 718.7,552.4 720.6,549.5 722.4,546.4 724.1,543.3 725.8,540.1 727.4,536.9 728.9,533.6 730.3,530.2 731.7,526.7 733.1,523.2 734.3,519.7 735.6,516.1 736.7,512.5 737.9,508.9 738.9,505.2 740.0,501.5 741.0,497.8 741.9,494.0 742.9,490.3 743.8,486.6 744.6,482.8 745.5,479.1 746.3,475.4 747.1,471.7 747.9,468.0 748.7,464.4 749.5,460.8 750.2,457.2 751.0,453.6 751.8,450.1 752.5,446.6 753.2,443.1 753.9,439.7 754.6,436.3 755.3,432.9 756.0,429.5 756.7,426.1 757.3,422.7 758.0,419.4 758.6,416.0 759.3,412.7 759.9,409.4 760.5,406.0 761.1,402.7 761.6,399.4 762.2,396.0 762.7,392.7 763.3,389.3 763.8,386.0 764.3,382.6 764.8,379.2 765.3,375.9 765.7,372.4 766.1,369.0 766.6,365.6 767.0,362.1 767.4,358.6 767.7,355.1 768.1,351.5 768.4,348.0 768.8,344.3 769.1,340.7 769.4,337.0 769.6,333.3 769.9,329.5 770.1,325.7 770.3,321.9 770.5,318.0" fill="none" stroke="#fff" stroke-width="2.9" stroke-linecap="butt" stroke-linejoin="round"/><ellipse cx="236" cy="201.2" rx="24.2" ry="7.7" fill="#fff" stroke="#000" stroke-width="2.6"/><ellipse cx="223.6" cy="200.2" rx="2.6" ry="1.4" fill="#fff" stroke="#000" stroke-width="2"/><ellipse cx="246" cy="204.8" rx="2.6" ry="1.4" fill="#fff" stroke="#000" stroke-width="2"/><ellipse cx="234.75" cy="347" rx="44" ry="49.75" fill="none" stroke="#000" stroke-width="6.5"/><path d="M234.2,200 L234.2,297.25" fill="none" stroke="#000" stroke-width="9" stroke-linecap="butt"/><ellipse cx="234.75" cy="347" rx="44" ry="49.75" fill="none" stroke="#fff" stroke-width="1.9"/><path d="M234.2,202.4 L234.2,298.75" fill="none" stroke="#fff" stroke-width="4.4"/><ellipse cx="364" cy="280" rx="23" ry="7.2" fill="#fff" stroke="#000" stroke-width="2.6"/><ellipse cx="351.6" cy="279" rx="2.6" ry="1.4" fill="#fff" stroke="#000" stroke-width="2"/><ellipse cx="374" cy="283.6" rx="2.6" ry="1.4" fill="#fff" stroke="#000" stroke-width="2"/><ellipse cx="364.4" cy="416.4" rx="41.4" ry="47.75" fill="none" stroke="#000" stroke-width="6.5"/><path d="M365.5,278.8 L365.5,368.65" fill="none" stroke="#000" stroke-width="9" stroke-linecap="butt"/><ellipse cx="364.4" cy="416.4" rx="41.4" ry="47.75" fill="none" stroke="#fff" stroke-width="1.9"/><path d="M365.5,281.2 L365.5,370.15" fill="none" stroke="#fff" stroke-width="4.4"/><ellipse cx="544.5" cy="151.5" rx="26.5" ry="8.5" fill="#fff" stroke="#000" stroke-width="2.6"/><ellipse cx="532.1" cy="150.5" rx="2.6" ry="1.4" fill="#fff" stroke="#000" stroke-width="2"/><ellipse cx="554.5" cy="155.1" rx="2.6" ry="1.4" fill="#fff" stroke="#000" stroke-width="2"/><ellipse cx="543.8" cy="312.85" rx="48.55" ry="58.25" fill="none" stroke="#000" stroke-width="6.5"/><path d="M543,150.3 L543,254.6" fill="none" stroke="#000" stroke-width="9" stroke-linecap="butt"/><ellipse cx="543.8" cy="312.85" rx="48.55" ry="58.25" fill="none" stroke="#fff" stroke-width="1.9"/><path d="M543,152.7 L543,256.1" fill="none" stroke="#fff" stroke-width="4.4"/><path d="M219.5,396 L219.6,848.1" fill="none" stroke="#000" stroke-width="7.9" stroke-linecap="butt" stroke-linejoin="round"/><path d="M219.5,396 L219.6,848.1" fill="none" stroke="#fff" stroke-width="2.9" stroke-linecap="butt" stroke-linejoin="round"/><path d="M351.5,462 Q349.2,478 349.1,520 L349.1,1203.8" fill="none" stroke="#000" stroke-width="7.9" stroke-linecap="butt" stroke-linejoin="round"/><path d="M351.5,462 Q349.2,478 349.1,520 L349.1,1203.8" fill="none" stroke="#fff" stroke-width="2.9" stroke-linecap="butt" stroke-linejoin="round"/><path d="M562.4,366 L562.8,940.8" fill="none" stroke="#000" stroke-width="7.9" stroke-linecap="butt" stroke-linejoin="round"/><path d="M562.4,366 L562.8,940.8" fill="none" stroke="#fff" stroke-width="2.9" stroke-linecap="butt" stroke-linejoin="round"/><ellipse cx="221.6" cy="400.2" rx="3.6" ry="8.6" transform="rotate(-6 221.6 400.2)" fill="#fff" stroke="#000" stroke-width="2.4"/><ellipse cx="227.3" cy="400" rx="5" ry="11.2" transform="rotate(-6 227.3 400)" fill="#fff" stroke="#000" stroke-width="2.4"/><ellipse cx="235.3" cy="400" rx="5.8" ry="13.6" transform="rotate(-8 235.3 400)" fill="#fff" stroke="#000" stroke-width="2.4"/><ellipse cx="244.6" cy="398.5" rx="6.2" ry="13" transform="rotate(-10 244.6 398.5)" fill="#fff" stroke="#000" stroke-width="2.4"/><ellipse cx="378" cy="463.4" rx="3.4" ry="7.4" transform="rotate(10 378 463.4)" fill="#fff" stroke="#000" stroke-width="2.4"/><ellipse cx="372.4" cy="464.2" rx="4.4" ry="9.6" transform="rotate(10 372.4 464.2)" fill="#fff" stroke="#000" stroke-width="2.4"/><ellipse cx="365.5" cy="464.8" rx="5.4" ry="12.4" transform="rotate(8 365.5 464.8)" fill="#fff" stroke="#000" stroke-width="2.4"/><ellipse cx="357.4" cy="463.8" rx="5.4" ry="11.6" transform="rotate(6 357.4 463.8)" fill="#fff" stroke="#000" stroke-width="2.4"/><ellipse cx="528" cy="363" rx="4.4" ry="6.6" transform="rotate(-4 528 363)" fill="#fff" stroke="#000" stroke-width="2.4"/><ellipse cx="532.8" cy="362.5" rx="4.4" ry="7.9" transform="rotate(-4 532.8 362.5)" fill="#fff" stroke="#000" stroke-width="2.4"/><ellipse cx="538.6" cy="362.8" rx="4.6" ry="9.8" transform="rotate(-5 538.6 362.8)" fill="#fff" stroke="#000" stroke-width="2.4"/><ellipse cx="546.2" cy="363.2" rx="6" ry="12.6" transform="rotate(-6 546.2 363.2)" fill="#fff" stroke="#000" stroke-width="2.4"/><ellipse cx="552.8" cy="362.6" rx="5.8" ry="12" transform="rotate(-8 552.8 362.6)" fill="#fff" stroke="#000" stroke-width="2.4"/></g><path d="M720.7,266 A83.1,18.8 0 0 1 886.9,266 L886.9,302.5 A83.1,19.5 0 0 1 720.7,302.5 Z" fill="#fff" stroke="#000" stroke-width="2.6"/><ellipse cx="803.8" cy="302.5" rx="82.1" ry="19.5" fill="#fff" stroke="#000" stroke-width="2.6"/><path d="M754.8,298.5 L763.8,298.5 L763.3,306.5 L755.3,306.5 Z" fill="#fff" stroke="#000" stroke-width="2.4" stroke-linejoin="round"/><ellipse cx="759.3" cy="299" rx="5.1" ry="2.2" fill="#000"/><path d="M843.8,298.5 L852.8,298.5 L852.3,306.5 L844.3,306.5 Z" fill="#fff" stroke="#000" stroke-width="2.4" stroke-linejoin="round"/><ellipse cx="848.3" cy="299" rx="5.1" ry="2.2" fill="#000"/><path d="M762.6,292 L778.6,292 L776.1,316 L765.1,316 Z" fill="#fff" stroke="#000" stroke-width="2.4" stroke-linejoin="round"/><ellipse cx="770.6" cy="292.5" rx="8.6" ry="2.2" fill="#000"/><path d="M828.8,292 L844.8,292 L842.3,316 L831.3,316 Z" fill="#fff" stroke="#000" stroke-width="2.4" stroke-linejoin="round"/><ellipse cx="836.8" cy="292.5" rx="8.6" ry="2.2" fill="#000"/><path d="M746.05,309 L762.55,309 L760.3,332 L748.3,332 Z" fill="#fff" stroke="#000" stroke-width="2.4" stroke-linejoin="round"/><ellipse cx="754.3" cy="309.5" rx="8.85" ry="2.2" fill="#000"/><path d="M845.05,309 L861.55,309 L859.3,332 L847.3,332 Z" fill="#fff" stroke="#000" stroke-width="2.4" stroke-linejoin="round"/><ellipse cx="853.3" cy="309.5" rx="8.85" ry="2.2" fill="#000"/><path d="M794.75,322 L808.25,322 L807.5,341 L795.5,341 Z" fill="#fff" stroke="#000" stroke-width="2.4" stroke-linejoin="round"/><ellipse cx="801.5" cy="322.5" rx="7.35" ry="2.2" fill="#000"/><ellipse cx="803.8" cy="314" rx="11" ry="7" fill="#fff" stroke="#000" stroke-width="2.4"/><ellipse cx="803.8" cy="305.5" rx="9.6" ry="2.6" fill="#000"/><path d="M814.0,529.0 L818.0,550.0 819.9,571.3 820.5,592.8 820.7,614.4 820.8,635.9 820.9,657.4 821.0,679.0 821.0,700.5 821.0,722.0 821.0,743.5 821.0,765.0 820.9,786.5 820.8,808.0 820.7,829.5 820.6,851.0 820.5,872.5 820.3,894.0 820.2,915.5 820.0,937.0 819.9,958.5 819.7,980.0 819.6,1001.4 819.4,1022.9 819.3,1044.4 819.2,1065.9 819.1,1087.4 819.0,1108.9 818.9,1130.4 818.9,1151.9 818.9,1173.4 818.9,1194.9 818.9,1216.4 819.0,1237.9 819.1,1259.5 819.3,1281.0 819.4,1302.5 819.7,1324.1 820.0,1345.6 820.3,1367.2" fill="none" stroke="#000" stroke-width="7.9" stroke-linecap="butt" stroke-linejoin="round"/><path d="M814.0,529.0 L818.0,550.0 819.9,571.3 820.5,592.8 820.7,614.4 820.8,635.9 820.9,657.4 821.0,679.0 821.0,700.5 821.0,722.0 821.0,743.5 821.0,765.0 820.9,786.5 820.8,808.0 820.7,829.5 820.6,851.0 820.5,872.5 820.3,894.0 820.2,915.5 820.0,937.0 819.9,958.5 819.7,980.0 819.6,1001.4 819.4,1022.9 819.3,1044.4 819.2,1065.9 819.1,1087.4 819.0,1108.9 818.9,1130.4 818.9,1151.9 818.9,1173.4 818.9,1194.9 818.9,1216.4 819.0,1237.9 819.1,1259.5 819.3,1281.0 819.4,1302.5 819.7,1324.1 820.0,1345.6 820.3,1367.2" fill="none" stroke="#fff" stroke-width="2.9" stroke-linecap="butt" stroke-linejoin="round"/><ellipse cx="799.2" cy="364.8" rx="20.8" ry="5.2" fill="#fff" stroke="#000" stroke-width="2.7"/><ellipse cx="789.2" cy="367" rx="2" ry="1.2" fill="#000"/><ellipse cx="809.9" cy="367.3" rx="2" ry="1.2" fill="#000"/><ellipse cx="800.25" cy="486.2" rx="43.3" ry="39.95" fill="none" stroke="#000" stroke-width="6.5"/><path d="M798.1,365 L798.1,446" fill="none" stroke="#000" stroke-width="5.4" stroke-linecap="butt"/><ellipse cx="800.25" cy="486.2" rx="43.3" ry="39.95" fill="none" stroke="#fff" stroke-width="1.9"/><path d="M798.1,368 L798.1,448" fill="none" stroke="#fff" stroke-width="1.4"/><path d="M792,540 C795,590 800,630 803.4,660" fill="none" stroke="#000" stroke-width="6" stroke-linecap="round" stroke-linejoin="round"/><path d="M792,540 C795,590 800,630 803.4,660" fill="none" stroke="#fff" stroke-width="1.8" stroke-linecap="butt" stroke-linejoin="round"/><path d="M801.6,342 L803.3,420 L803.8,661" fill="none" stroke="#000" stroke-width="6.4" stroke-linecap="butt" stroke-linejoin="round"/><path d="M801.6,342 L803.3,420 L803.8,661" fill="none" stroke="#fff" stroke-width="2.2" stroke-linecap="butt" stroke-linejoin="round"/><circle cx="803.8" cy="661" r="3.2" fill="#000"/><path d="M803.8,655 L803.8,660" stroke="#fff" stroke-width="2.2"/><ellipse cx="783.5" cy="532" rx="3.6" ry="8.5" transform="rotate(-4 783.5 532)" fill="#fff" stroke="#000" stroke-width="2.4"/><ellipse cx="790" cy="532" rx="4.4" ry="10" transform="rotate(-4 790 532)" fill="#fff" stroke="#000" stroke-width="2.4"/><ellipse cx="797.5" cy="532" rx="5" ry="11" transform="rotate(-5 797.5 532)" fill="#fff" stroke="#000" stroke-width="2.4"/><ellipse cx="805.5" cy="532" rx="5.4" ry="10.8" transform="rotate(-6 805.5 532)" fill="#fff" stroke="#000" stroke-width="2.4"/><ellipse cx="812" cy="531.5" rx="3.6" ry="8.6" transform="rotate(-8 812 531.5)" fill="#fff" stroke="#000" stroke-width="2.4"/><use href="#lamp" transform="translate(219.5 848.1)"/><use href="#lamp" transform="translate(349.2 1203.8)"/><use href="#lamp" transform="translate(562.8 940.8)"/><use href="#lamp" transform="translate(820.3 1367.2)"/><use href="#lamp" transform="translate(1045.5 940.8)"/><use href="#lamp" transform="translate(1258.6 1205)"/><use href="#lamp" transform="translate(1388.7 848.1)"/><path d="M1668.8,141.6 L1668.8,1678.1" fill="none" stroke="#000" stroke-width="2.5" stroke-linecap="round" stroke-linejoin="round"/><path d="M1647.8,141.6 L1690,141.6" fill="none" stroke="#000" stroke-width="2.5" stroke-linecap="round" stroke-linejoin="round"/><path d="M1654,126.7 L1683.5,156.2" fill="none" stroke="#000" stroke-width="2.5" stroke-linecap="round" stroke-linejoin="round"/><path d="M1647.8,1678.1 L1690,1678.1" fill="none" stroke="#000" stroke-width="2.5" stroke-linecap="round" stroke-linejoin="round"/><path d="M1654,1663.2 L1683.5,1692.4" fill="none" stroke="#000" stroke-width="2.5" stroke-linecap="round" stroke-linejoin="round"/><path d="M112.2,1756.8 L1494.8,1756.8" fill="none" stroke="#000" stroke-width="2.5" stroke-linecap="round" stroke-linejoin="round"/><path d="M112.2,1736 L112.2,1777.6" fill="none" stroke="#000" stroke-width="2.5" stroke-linecap="round" stroke-linejoin="round"/><path d="M97.3,1771.7 L127.1,1742.5" fill="none" stroke="#000" stroke-width="2.5" stroke-linecap="round" stroke-linejoin="round"/><path d="M1495,1736 L1495,1777.6" fill="none" stroke="#000" stroke-width="2.5" stroke-linecap="round" stroke-linejoin="round"/><path d="M1480,1771.7 L1509.9,1742.5" fill="none" stroke="#000" stroke-width="2.5" stroke-linecap="round" stroke-linejoin="round"/><text x="0" y="0" transform="translate(549.8 1839.2) scale(1 1.04)" font-family="Liberation Serif, serif" font-size="61">550mm</text><text x="0" y="0" transform="translate(867.8 1839.2) scale(1 1.04)" font-family="Liberation Serif, serif" font-size="61">1350mm</text><text x="0" y="0" transform="translate(1695.5 858.6) scale(1 1.04)" font-family="Liberation Serif, serif" font-size="61">1300mm</text><text x="0" y="0" transform="translate(1704.6 1050.2) scale(1 1.04)" font-family="Liberation Serif, serif" font-size="61">500mm</text><path d="M767.9,1813.2 L830,1813.2 L830,1821.8 L767.9,1821.8 Z" fill="#000"/><path d="M818.7,1796.1 L828.5,1796.1 L842.5,1817.3 L828.5,1839.1 L818.9,1838.8 L832,1817.3 Z" fill="#000"/><path d="M1755,900 L1764.1,900 L1764.1,966.5 L1755,966.5 Z" fill="#000"/><path d="M1759.7,891.6 L1781.5,906.3 L1781.3,915.6 L1759.7,903.1 L1738.3,915.2 L1738.3,906.1 Z" fill="#000"/></svg></body></html>
